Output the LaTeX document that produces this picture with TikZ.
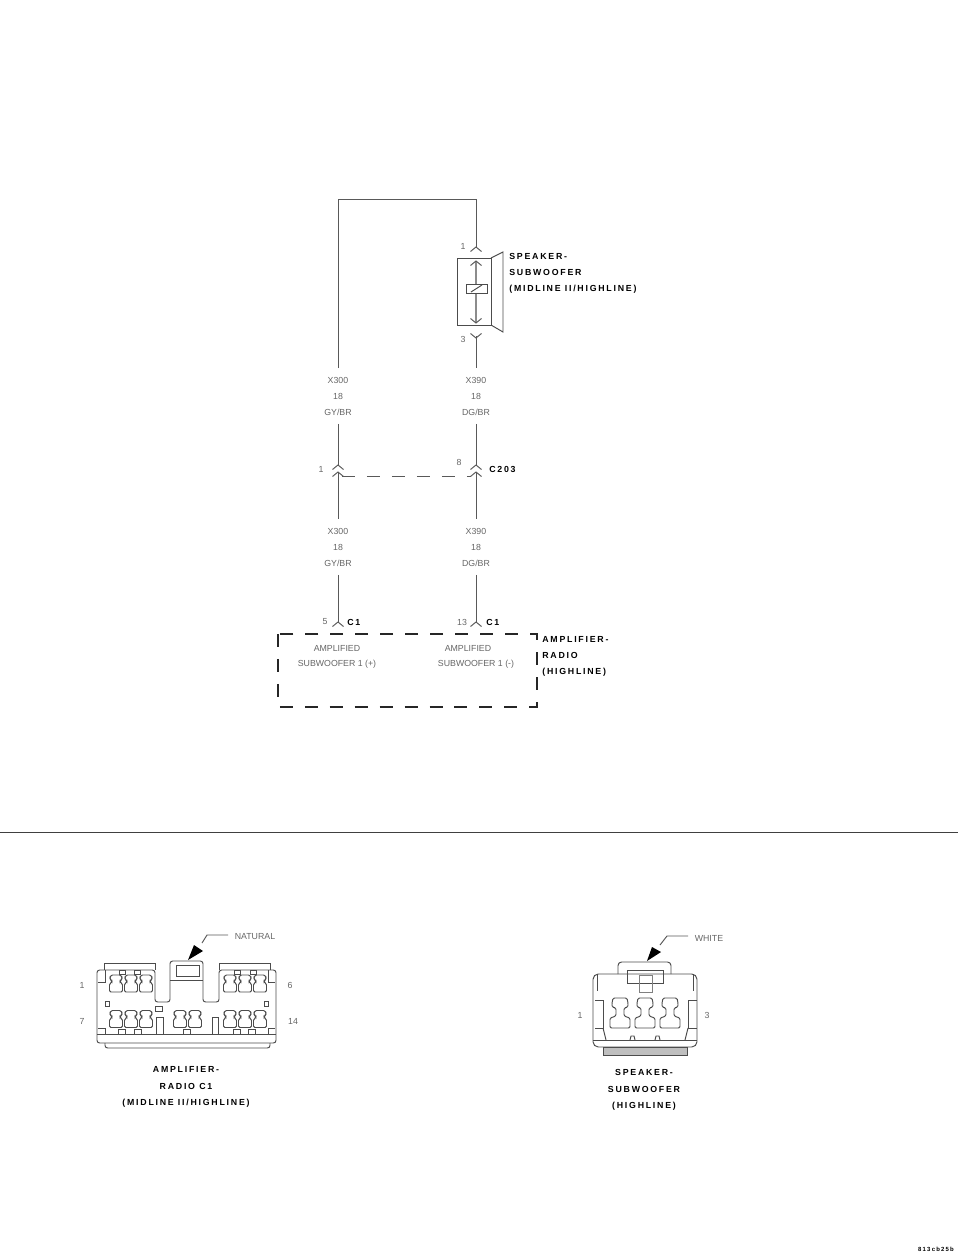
\documentclass[tikz,border=0pt]{standalone}
\usepackage{fontspec}
\usetikzlibrary{calc}
\newfontfamily\wirefont{Liberation Sans}
\newfontfamily\namefont[LetterSpace=20]{Liberation Sans}
\definecolor{wiregray}{gray}{.35}
\definecolor{textgray}{gray}{.4}
\tikzset{
  wire/.style={draw=wiregray, line width=.55pt},
  dashbox/.style={draw=black!85, line width=.8pt, dash pattern=on 7.4pt off 6.8pt},
  part/.style={draw=black!70, line width=.55pt},
  wirelabel/.style={inner sep=0pt, minimum height=1.1cm, align=center, text=textgray, font=\wirefont\fontsize{5}{9.1}\selectfont},
  pinlabel/.style={inner sep=0pt, text=textgray, font=\wirefont\fontsize{5}{9.1}\selectfont},
  partlabel/.style={inner sep=0pt, align=left, anchor=west, text=black, font=\namefont\bfseries\fontsize{5}{9.1}\selectfont},
  viewlabel/.style={inner sep=0pt, align=center, text=black, font=\namefont\bfseries\fontsize{5}{9.3}\selectfont},
  chevup/.pic={\draw[wire] (-5.5,2.5)--(0,-2)--(5.5,2.5);},
  chevdown/.pic={\draw[wire] (-5.5,-2.5)--(0,2)--(5.5,-2.5);},
  smallterm/.pic={\draw[part, rounded corners=.8pt] (-5,-8.5)--(5,-8.5)--(6,-6)--(6,-4)--(4,-3)--(4,-1)--(6.5,0)--(6.5,8.5)--(-6.5,8.5)--(-6.5,0)--(-4,-1)--(-4,-3)--(-6,-4)--(-6,-6)--cycle;},
  bigterm/.pic={\draw[part, rounded corners=.8pt] (-7,-15)--(7,-15)--(8,-10)--(8,-6)--(4,-5)--(4,3)--(10,5)--(10,15)--(-10,15)--(-10,5)--(-4,3)--(-4,-5)--(-8,-6)--(-8,-10)--cycle;}
}
\begin{document}
\begin{tikzpicture}[x=.02cm,y=-.02cm]
\useasboundingbox (0,0) rectangle (960,1257);

% wiring
\coordinate (topl) at (338,199);
\coordinate (topr) at (476,199);
\coordinate (spk1) at (476,247);
\coordinate (spk3) at (476,336);
\coordinate (c203la) at (338,465);
\coordinate (c203lb) at (338,472);
\coordinate (c203ra) at (476,465);
\coordinate (c203rb) at (476,472);
\coordinate (c1l) at (338,622);
\coordinate (c1r) at (476,622);
\coordinate (dashl) at (342,476);
\coordinate (dashr) at (471,476);

\node[wirelabel] (wla) at (338,396) {X300\\18\\GY/BR};
\node[wirelabel] (wra) at (476,396) {X390\\18\\DG/BR};
\node[wirelabel] (wlb) at (338,547) {X300\\18\\GY/BR};
\node[wirelabel] (wrb) at (476,547) {X390\\18\\DG/BR};

\draw[wire] (wla) -- (topl) -- (topr) -- (spk1);
\draw[wire] (spk3) -- (wra);
\draw[wire] (wla) -- (c203la);
\draw[wire] (wra) -- (c203ra);
\draw[wire] (c203lb) -- (wlb);
\draw[wire] (c203rb) -- (wrb);
\draw[wire] (wlb) -- (c1l);
\draw[wire] (wrb) -- (c1r);
\draw[wire, dash pattern=on 7.4pt off 6.8pt] (dashl) -- (dashr);

\foreach \p in {spk1,c203la,c203lb,c203ra,c203rb,c1l,c1r}
  \pic at ($(\p)+(0,2)$) {chevup};
\pic at (spk3) {chevdown};

% speaker symbol
\draw[part] (457,258) rectangle (491,325);
\draw[part] (491,258) -- (503,252) -- (503,332) -- (491,325);
\draw[draw=black!45, line width=.7pt] (476,261) -- (476,323);
\pic at (476,263) {chevup};
\pic at (476,321) {chevdown};
\draw[part, fill=white] (466,284) rectangle (487,293);
\draw[part] (471,292) -- (482,285);

% amplifier box
\draw[dashbox] (278,634) rectangle (537,707);
\node[pinlabel] (ampla) at (337,648) {AMPLIFIED};
\node[pinlabel] (amplb) at (337,664) {SUBWOOFER 1 (+)};
\node[pinlabel] (ampra) at (468,648) {AMPLIFIED};
\node[pinlabel] (amprb) at (476,664) {SUBWOOFER 1 (-)};

% names
\node[partlabel] (spkname) at (509,273) {SPEAKER-\\SUBWOOFER\\(MIDLINE II/HIGHLINE)};
\node[partlabel] (ampname) at (542,656) {AMPLIFIER-\\RADIO\\(HIGHLINE)};
\node[partlabel] (c203name) at (489,469) {C203};
\node[partlabel] (c1lname) at (347,622) {C1};
\node[partlabel] (c1rname) at (486,622) {C1};

\node[pinlabel] (pa) at (463,246) {1};
\node[pinlabel] (pb) at (463,339) {3};
\node[pinlabel] (pc) at (321,469) {1};
\node[pinlabel] (pd) at (459,462) {8};
\node[pinlabel] (pe) at (325,622) {5};
\node[pinlabel] (pf) at (462,622) {13};

% separator
\coordinate (sepl) at (0,832);
\coordinate (sepr) at (958,832);
\draw[line width=.45pt, draw=black!75] (sepl) -- (sepr);

% amplifier connector view
\draw[part, rounded corners=1.5pt] (97,970) -- (155,970) -- (155,1002) -- (170,1002) -- (170,961) -- (203,961) -- (203,1002) -- (219,1002) -- (219,970) -- (276,970) -- (276,1043) -- (97,1043) -- cycle;
\draw[part] (98,982) -- (105,982) -- (105,970) (98,1028) -- (105,1028) -- (105,1034);
\draw[part] (275,982) -- (268,982) -- (268,970) (275,1028) -- (268,1028) -- (268,1034);
\draw[part] (97,1034) -- (276,1034);
\draw[part] (104,970) -- (104,963) -- (155,963) -- (155,970);
\draw[part] (219,970) -- (219,963) -- (270,963) -- (270,970);
\draw[part, rounded corners=1.5pt] (105,1043) -- (105,1048) -- (270,1048) -- (270,1043);
\draw[part] (176,965) rectangle (199,976);
\draw[part] (170,980) -- (203,980);
\draw[part] (105,1001) rectangle (109,1006) (264,1001) rectangle (268,1006);
\draw[part] (155,1006) rectangle (162,1011);
\draw[part] (156,1017) rectangle (163,1034);
\draw[part] (212,1017) rectangle (218,1034);

\foreach \x in {116,131,146,230,245,260}
  \pic at (\x,983.5) {smallterm};
\foreach \x in {116,131,146,180,195,230,245,260}
  \pic at (\x,1019) {smallterm};
\foreach \x in {119,134,234,250}
  \draw[part] (\x,970) rectangle ++(6,4);
\foreach \x in {118,134,183,233,248}
  \draw[part] (\x,1029) rectangle ++(7,5);

\coordinate (natural) at (228,935);
\coordinate (naturalb) at (207,935);
\coordinate (naturaltip) at (188,960);
\draw[wire] (natural) -- (naturalb) -- (202,943);
\fill[black] (naturaltip) -- (194,945) -- (203,951) -- cycle;
\node[pinlabel] (naturalname) at (255,937) {NATURAL};

\node[pinlabel] (qa) at (82,985) {1};
\node[pinlabel] (qb) at (290,985) {6};
\node[pinlabel] (qc) at (82,1021) {7};
\node[pinlabel] (qd) at (293,1021) {14};
\node[viewlabel] (ampview) at (186,1087) {AMPLIFIER-\\RADIO C1\\(MIDLINE II/HIGHLINE)};

% speaker connector view
\draw[part, rounded corners=3pt] (593,974) rectangle (697,1047);
\draw[part, rounded corners=2pt] (618,974) -- (618,962) -- (671,962) -- (671,974);
\draw[part] (593,1040) -- (697,1040);
\draw[part] (627,970) rectangle (663,983);
\draw[part, draw=black!50] (639,975) rectangle (652,992);
\draw[part] (597,974) -- (597,991) (693,974) -- (693,991);
\draw[part] (595,1000) -- (603,1000) -- (603,1028) -- (595,1028);
\draw[part] (697,1000) -- (688,1000) -- (688,1028) -- (697,1028);
\draw[part] (603,1028) -- (606,1040) (688,1028) -- (685,1040);
\draw[part, fill=black!25] (603,1047) rectangle (687,1055);
\draw[part] (630,1040) -- (631,1036) -- (634,1036) -- (635,1040);
\draw[part] (655,1040) -- (656,1036) -- (659,1036) -- (660,1040);
\foreach \x in {620,645,670}
  \pic at (\x,1013) {bigterm};

\coordinate (white) at (688,936);
\coordinate (whiteb) at (667,936);
\coordinate (whitetip) at (647,961);
\draw[wire] (white) -- (whiteb) -- (660,945);
\fill[black] (whitetip) -- (652,947) -- (661,952) -- cycle;
\node[pinlabel] (whitename) at (709,938) {WHITE};

\node[pinlabel] (ra) at (580,1015) {1};
\node[pinlabel] (rb) at (707,1015) {3};
\node[viewlabel] (spkview) at (644,1090) {SPEAKER-\\SUBWOOFER\\(HIGHLINE)};

% figure number
\node[inner sep=0pt, font=\namefont\bfseries\fontsize{3.4}{4}\selectfont] (fignum) at (936,1249) {813cb25b};
\end{tikzpicture}
\end{document}
